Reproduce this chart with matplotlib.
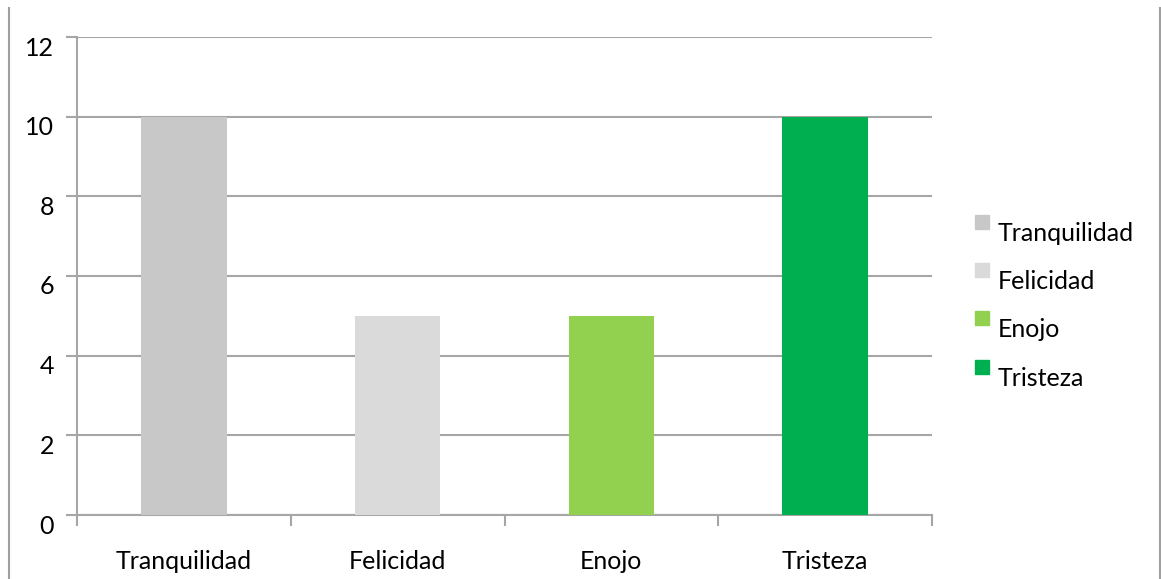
import matplotlib.pyplot as plt
import matplotlib.lines as mlines
import matplotlib.patches as mpatches
import matplotlib.transforms as mtransforms
import numpy as np

categories = ["Tranquilidad", "Felicidad", "Enojo", "Tristeza"]
values = [10, 5, 5, 10]
colors = ["#C8C8C8", "#DADADA", "#92D050", "#00B050"]
y_ticks = [0, 2, 4, 6, 8, 10, 12]

plt.rcParams['font.family'] = ['Lato', 'DejaVu Sans']

W, H = 1161, 579
fig = plt.figure(figsize=(W / 100, H / 100), dpi=100)
ax = fig.add_axes([77 / W, 1 - 515 / H, (932 - 77) / W, (515 - 37) / H])

grid_c = "#A6A6A6"
x = np.arange(len(categories))
ax.bar(x, values, width=0.4, color=colors, zorder=3)

ax.set_xlim(-0.5, len(categories) - 0.5)
ax.set_ylim(0, 12)
ax.set_yticks(y_ticks)
ax.set_yticklabels([str(t) for t in y_ticks], fontsize=18)
ax.yaxis.grid(True, color=grid_c, linewidth=1.5, zorder=0)
ax.tick_params(axis='y', length=8, width=1.5, color=grid_c, pad=8.5)
# labels sit slightly below their gridlines
shift = mtransforms.ScaledTranslation(0, -0.09, fig.dpi_scale_trans)
for lab in ax.get_yticklabels():
    lab.set_transform(lab.get_transform() + shift)

# category labels centred, ticks at category boundaries
ax.set_xticks(x)
ax.set_xticklabels(categories, fontsize=18)
ax.tick_params(axis='x', length=0, pad=25)
ax.set_xticks(np.arange(-0.5, len(categories)), minor=True)
ax.tick_params(axis='x', which='minor', length=8, width=1.5, color=grid_c)

for s in ['top', 'right']:
    ax.spines[s].set_visible(False)
for s in ['left', 'bottom']:
    ax.spines[s].set_color(grid_c)
    ax.spines[s].set_linewidth(1.5)

# legend drawn by hand: squares aligned to the top of the text
sq_tops = [215, 263, 311, 360]
for cat, c, top in zip(categories, colors, sq_tops):
    fig.add_artist(mpatches.Rectangle((975 / W, 1 - (top + 14) / H), 14 / W, 14 / H,
                                      transform=fig.transFigure, color=c))
    fig.text(998 / W, 1 - (top + 26) / H, cat, fontsize=18, va='baseline', ha='left')

# outer frame lines on the sides
fig.add_artist(mlines.Line2D([8.5 / W, 8.5 / W], [0, 1 - 8 / H],
                             transform=fig.transFigure, color="#A0A0A0", lw=1.5))
fig.add_artist(mlines.Line2D([1159.5 / W, 1159.5 / W], [0, 1 - 8 / H],
                             transform=fig.transFigure, color="#A0A0A0", lw=1.5))

fig.savefig("out.png", dpi=100)
